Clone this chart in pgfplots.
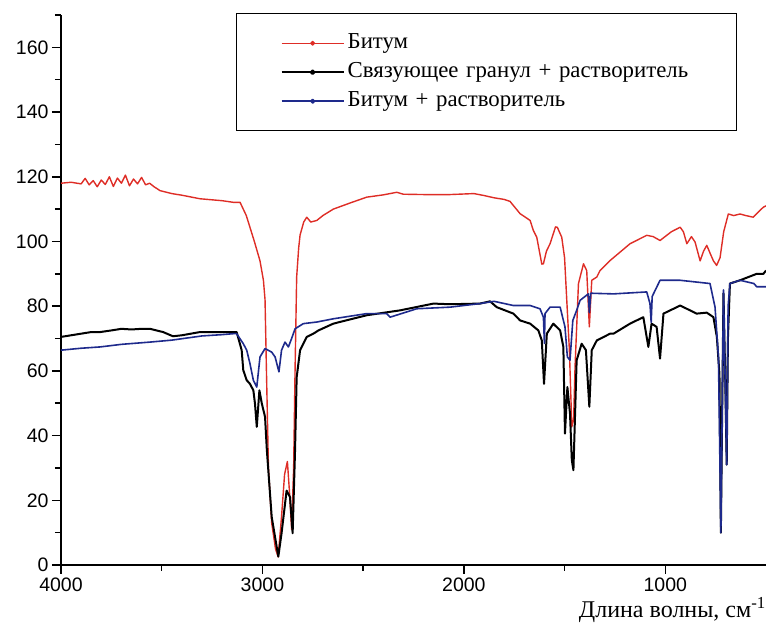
\documentclass[border=0pt]{standalone}
\usepackage{fontspec}
\setmainfont{Liberation Serif}
\newfontfamily\arialfont{Liberation Sans}
\usepackage{pgfplots}
\pgfplotsset{compat=1.18}

\definecolor{spred}{RGB}{222,45,38}
\definecolor{spblue}{RGB}{30,42,140}

% IR spectra: wavenumber (cm^-1) vs transmittance
\pgfplotstableread{
w v
4000 118
3950 118.3
3900 117.8
3880 119.5
3860 117.5
3840 118.8
3820 116.9
3800 119
3780 117.6
3760 120
3740 117
3720 119.6
3700 118
3680 120.5
3660 117.2
3640 119.3
3620 117.8
3600 119.8
3580 117.5
3560 118
3540 117
3508 115.7
3450 114.8
3400 114.3
3310 113.2
3200 112.6
3144 112.1
3111 112.1
3080 108
3040 100
3012 94
2995 88
2987 82
2980 60
2970 30
2954 13
2935 5
2922 2.5
2905 15
2890 28
2876 32
2865 22
2855 11
2845 30
2838 60
2830 89
2820 98
2813 102
2795 106
2780 107.5
2760 106
2730 106.5
2700 108
2648 110
2560 112
2482 113.7
2400 114.4
2333 115.2
2300 114.6
2200 114.5
2068 114.5
1950 114.8
1900 114.2
1850 113.5
1800 113
1771 112.4
1721 108.6
1671 106.5
1655 103.4
1638 101.3
1613 93
1605 93.1
1590 97
1572 99.3
1545 104.5
1536 104.4
1514 101.3
1500 95
1489 81.8
1476 66.4
1464 42.7
1455 45
1448 61.2
1431 87
1406 93.1
1390 91
1377 73.6
1365 88
1340 89
1324 91
1274 94.1
1257 95
1175 99.3
1092 101.9
1060 101.5
1026 100.3
970 103
926 104.4
910 103
893 99.3
870 101.5
852 99.8
827 94
810 97
794 98.8
775 96
761 94
745 92.6
728 95
710 103
687 108.5
660 108
629 108.5
600 108
563 107.5
540 109
513 110.6
500 111
}\bitumen

\pgfplotstableread{
w v
4000 70.5
3950 71
3900 71.5
3850 72
3806 72
3750 72.5
3700 73
3650 72.8
3600 73
3558 73
3493 72
3444 70.7
3400 71
3310 72
3200 72
3128 72
3103 66.4
3095 60.2
3078 57.1
3062 56
3045 54
3037 49.9
3028 42.7
3015 54
3003 49.9
2987 45.8
2978 35.5
2954 14.9
2921 2.6
2905 9.8
2880 23
2863 21
2850 9.8
2838 35.5
2830 58
2813 66.4
2780 70.5
2747 71.5
2722 72.5
2648 74.6
2482 77.2
2317 78.7
2151 80.8
2068 80.6
1920 80.8
1870 81.5
1837 79.7
1754 77.7
1721 75.6
1671 74.6
1630 72.5
1613 69.4
1602 56
1588 71.5
1556 74.6
1522 72.5
1506 67.4
1498 40.6
1486 55
1473 46.8
1464 32.4
1456 29.3
1440 63.3
1415 68.4
1394 66.4
1377 48.9
1365 66.4
1340 69.4
1274 71.5
1257 71.5
1175 74.6
1109 76.6
1084 67.4
1068 74.6
1043 73.6
1026 63.8
1009 77.7
926 80.2
877 78.7
844 77.7
794 78
761 76.6
744 70.5
731 59
724 10
718 45
711 84
703 60
695 31
689 70
679 87
629 88
546 90
513 90
500 91
}\binder

\pgfplotstableread{
w v
4000 66.4
3900 67
3806 67.4
3700 68.2
3558 68.9
3450 69.5
3393 70
3300 70.8
3200 71.2
3144 71.5
3128 71.5
3095 68.4
3078 66.4
3062 62.3
3045 57.1
3028 55
3012 64.3
2987 66.9
2954 65.8
2937 64.3
2918 59.7
2905 66.4
2888 68.9
2871 67.4
2855 70
2838 73
2797 74.6
2730 75.1
2648 76.1
2482 77.7
2383 77.7
2366 76.6
2234 79.2
2068 79.7
1920 80.8
1850 81.5
1754 80.2
1671 80.2
1622 79.2
1605 76.6
1600 68.5
1597 77.7
1572 79.7
1522 79.7
1498 73.6
1486 64.3
1473 63.3
1459 75.6
1440 78.7
1423 81.8
1382 83.8
1377 78
1370 84
1257 83.8
1092 84.4
1076 80.8
1070 75
1065 83
1026 88
926 88
778 87
753 79.7
736 64.3
724 10
711 85
695 31
688 80
679 87
629 88
560 87
546 86
500 86
}\bitumensolv

\begin{document}
\begin{tikzpicture}
\path[use as bounding box] (-61pt,-69pt) rectangle (705pt,565pt);
\begin{axis}[
  at={(0pt,0pt)}, anchor=south west,
  scale only axis, width=705pt, height=550pt,
  x dir=reverse,
  xmin=500, xmax=4000, ymin=0, ymax=170,
  axis x line*=bottom, axis y line*=left,
  axis line style={line width=1.7pt, -},
  xtick={1000,2000,3000,4000},
  minor xtick={1500,2500,3500},
  ytick={0,20,...,160},
  minor ytick={10,30,...,170},
  tick align=outside,
  major tick length=9pt, minor tick length=6pt,
  every tick/.style={line width=1.5pt, black},
  /pgf/number format/assume math mode=true,
  /pgf/number format/1000 sep={},
  tick label style={font=\arialfont\fontsize{19.5}{19.5}\selectfont},
  xlabel={Длина волны, см\textsuperscript{-1}},
  xlabel style={at={(1,0)}, anchor=base east, yshift=-53pt, inner sep=0pt,
    font=\fontsize{24}{24}\selectfont},
  legend cell align=left,
  legend image code/.code={
    \draw[#1] (0pt,0pt) -- (62pt,0pt);
    \fill[#1] (31pt,0pt) circle (1.8pt);
  },
  legend style={
    at={(0.2482,1.0036)}, anchor=north west,
    draw=black, line width=1.4pt,
    inner xsep=44pt, inner ysep=17.5pt,
    row sep=5pt, column sep=0pt,
    nodes={inner xsep=3pt, inner ysep=2pt, text height=15pt, text depth=5pt,
      text width=342pt, align=left, font=\fontsize{22.8}{22.8}\selectfont},
  },
]
\addplot[spred, line width=1.4pt, line join=round] table[x=w, y=v] {\bitumen};
\addlegendentry{Битум}
\addplot[black, line width=2pt, line join=round] table[x=w, y=v] {\binder};
\addlegendentry{Связующее гранул + растворитель}
\addplot[spblue, line width=1.6pt, line join=round] table[x=w, y=v] {\bitumensolv};
\addlegendentry{Битум + растворитель}
\end{axis}
\end{tikzpicture}
\end{document}
